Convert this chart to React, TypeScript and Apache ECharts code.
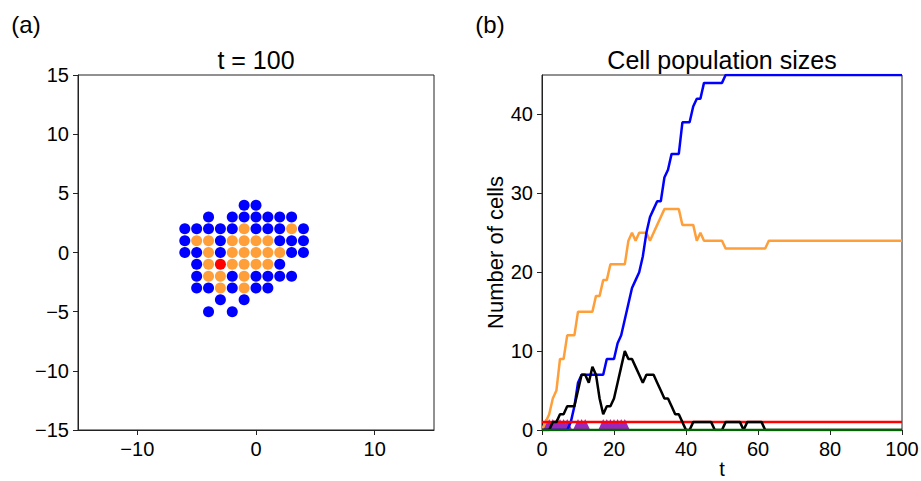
import React, { useEffect, useRef } from "react";
import * as echarts from "echarts";

// ---- Panel (a): cell positions at t = 100 ----
const blueCells: number[][] = [
  [-1, 4], [0, 4],
  [-4, 3], [-2, 3], [-1, 3], [0, 3], [1, 3], [2, 3], [3, 3],
  [-6, 2], [-5, 2], [-4, 2], [-3, 2], [-2, 2], [0, 2], [1, 2], [2, 2], [4, 2],
  [-6, 1], [-3, 1], [2, 1], [3, 1], [4, 1],
  [-6, 0], [-5, 0], [-3, 0], [3, 0], [4, 0],
  [-5, -1], [2, -1],
  [-5, -2], [-2, -2], [0, -2], [1, -2], [2, -2], [3, -2],
  [-5, -3], [-4, -3], [-2, -3], [0, -3], [1, -3],
  [-3, -4], [-1, -4],
  [-4, -5], [-2, -5],
];
const orangeCells: number[][] = [
  [-1, 2], [3, 2],
  [-5, 1], [-4, 1], [-2, 1], [-1, 1], [0, 1], [1, 1],
  [-4, 0], [-2, 0], [-1, 0], [0, 0], [1, 0], [2, 0],
  [-4, -1], [-2, -1], [-1, -1], [0, -1], [1, -1],
  [-4, -2], [-3, -2], [-1, -2],
  [-3, -3], [-1, -3],
];
const redCells: number[][] = [[-3, -1]];

const xTicksA = [-10, 0, 10];

// ---- Panel (b): population sizes, one value per time step t = 0..100 ----
const orangePop = [
  0, 1, 2, 4, 5, 9, 9, 12, 12, 12,
  15, 15, 15, 15, 15, 17, 17, 19, 19, 21,
  21, 21, 21, 21, 24, 25, 24, 25, 25, 25,
  24, 25, 26, 27, 28, 28, 28, 28, 28, 26,
  26, 26, 26, 24, 25, 24, 24, 24, 24, 24,
  24, 23, 23, 23, 23, 23, 23, 23, 23, 23,
  23, 23, 23, 24, 24, 24, 24, 24, 24, 24,
  24, 24, 24, 24, 24, 24, 24, 24, 24, 24,
  24, 24, 24, 24, 24, 24, 24, 24, 24, 24,
  24, 24, 24, 24, 24, 24, 24, 24, 24, 24,
  24,
];
const bluePop = [
  0, 0, 0, 0, 0, 0, 0, 0, 1, 3,
  6, 7, 7, 7, 7, 7, 7, 7, 9, 9,
  9, 11, 12, 14, 16, 18, 19, 20, 22, 25,
  27, 28, 29, 29, 32, 33, 35, 35, 35, 39,
  39, 39, 41, 42, 42, 44, 44, 44, 44, 44,
  44, 45, 45, 45, 45, 45, 45, 45, 45, 45,
  45, 45, 45, 45, 45, 45, 45, 45, 45, 45,
  45, 45, 45, 45, 45, 45, 45, 45, 45, 45,
  45, 45, 45, 45, 45, 45, 45, 45, 45, 45,
  45, 45, 45, 45, 45, 45, 45, 45, 45, 45,
  45,
];
const blackPop = [
  0, 0, 0, 1, 1, 2, 2, 3, 3, 3,
  5, 7, 7, 6, 8, 7, 4, 2, 3, 3,
  4, 6, 8, 10, 9, 9, 8, 7, 6, 7,
  7, 7, 6, 5, 4, 4, 3, 2, 2, 1,
  0, 0, 1, 1, 1, 1, 1, 1, 0, 0,
  0, 1, 1, 1, 1, 1, 0, 1, 1, 1,
  1, 1, 0, 0, 0, 0, 0, 0, 0, 0,
  0, 0, 0, 0, 0, 0, 0, 0, 0, 0,
  0, 0, 0, 0, 0, 0, 0, 0, 0, 0,
  0, 0, 0, 0, 0, 0, 0, 0, 0, 0,
  0,
];
const redLine = [[0, 1], [100, 1]];
const greenLine = [[0, 0], [100, 0]];
const purpleTimes = [1, 2, 3, 4, 5, 6, 7, 10, 11, 12, 17, 18, 19, 20, 21, 22, 23];
const purpleValue = 1;

const xTicksB = [0, 20, 40, 60, 80, 100];
const yTicksB = [0, 10, 20, 30, 40];

const FONT = "'Liberation Sans', Arial, Helvetica, sans-serif";
const BLUE = "#0000ff";
const ORANGE = "#ff9f3a";
const RED = "#ff0000";
const AXIS = "#222";
const TICK_FS = 20;
const NAME_FS = 22;
const TITLE_FS = 25;

const fmt = (v: number) => String(v).replace("-", "\u2212");

function axisBase(ticks: number[] | null, extra: any = {}) {
  return {
    type: "value",
    axisLine: { show: true, onZero: false, lineStyle: { color: AXIS, width: 1 } },
    axisTick: {
      show: true,
      inside: false,
      length: 5,
      lineStyle: { color: AXIS, width: 1 },
      ...(ticks ? { customValues: ticks } : {}),
    },
    axisLabel: {
      show: true,
      fontSize: TICK_FS,
      color: "#000",
      fontFamily: FONT,
      margin: 9,
      formatter: fmt,
      ...(ticks ? { customValues: ticks } : {}),
    },
    splitLine: { show: false },
    ...extra,
  };
}

export default function App() {
  const ref = useRef<HTMLDivElement>(null);

  useEffect(() => {
    if (!ref.current) return;
    const chart = echarts.init(ref.current, undefined, { renderer: "svg" });
    const toSeries = (arr: number[]) => arr.map((v, i) => [i, v]);
    const textEl = (text: string, x: number, y: number, fs: number) => ({
      type: "text", x, y,
      style: { text, fontSize: fs, fontFamily: FONT, fill: "#000", align: "center", verticalAlign: "middle" },
    });

    const option: any = {
      animation: false,
      backgroundColor: "#fff",
      textStyle: { fontFamily: FONT },
      grid: [
        { left: 78, top: 75, width: 356, height: 355, show: true, borderColor: AXIS, borderWidth: 1, outerBoundsMode: "none" },
        { left: 542, top: 75, width: 360, height: 355, show: true, borderColor: AXIS, borderWidth: 1, outerBoundsMode: "none" },
      ],
      xAxis: [
        axisBase(xTicksA, { gridIndex: 0, min: -15, max: 15 }),
        axisBase(xTicksB, { gridIndex: 1, min: 0, max: 100 }),
      ],
      yAxis: [
        axisBase(null, { gridIndex: 0, min: -15, max: 15, interval: 5 }),
        axisBase(yTicksB, {
          gridIndex: 1, min: 0, max: 45,
          name: "Number of cells", nameLocation: "middle", nameGap: 34,
          nameTextStyle: { fontSize: NAME_FS, color: "#000", fontFamily: FONT },
        }),
      ],
      graphic: [
        textEl("(a)", 26, 24, 24),
        textEl("(b)", 490, 24, 24),
        textEl("t = 100", 256, 60, TITLE_FS),
        textEl("Cell population sizes", 722, 60, TITLE_FS),
        textEl("t", 722, 469, 20),
      ],
      series: [
        { type: "scatter", xAxisIndex: 0, yAxisIndex: 0, data: blueCells, symbolSize: 11, itemStyle: { color: BLUE, opacity: 1 } },
        { type: "scatter", xAxisIndex: 0, yAxisIndex: 0, data: orangeCells, symbolSize: 11, itemStyle: { color: ORANGE, opacity: 1 } },
        { type: "scatter", xAxisIndex: 0, yAxisIndex: 0, data: redCells, symbolSize: 11, itemStyle: { color: RED, opacity: 1 } },

        { type: "line", xAxisIndex: 1, yAxisIndex: 1, data: toSeries(orangePop), showSymbol: false, lineStyle: { color: ORANGE, width: 2.5 } },
        { type: "line", xAxisIndex: 1, yAxisIndex: 1, data: toSeries(bluePop), showSymbol: false, lineStyle: { color: BLUE, width: 2.5 } },
        { type: "line", xAxisIndex: 1, yAxisIndex: 1, data: redLine, showSymbol: false, lineStyle: { color: RED, width: 2.5 } },
        { type: "line", xAxisIndex: 1, yAxisIndex: 1, data: toSeries(blackPop), showSymbol: false, lineStyle: { color: "#000", width: 2.5 } },
        {
          type: "scatter", xAxisIndex: 1, yAxisIndex: 1,
          data: purpleTimes.map((t) => [t, purpleValue]),
          symbol: "triangle", symbolSize: [9, 10], symbolOffset: [0, 2],
          itemStyle: { color: "#9c27b8", opacity: 1 },
        },
        { type: "line", xAxisIndex: 1, yAxisIndex: 1, data: greenLine, showSymbol: false, lineStyle: { color: "#006400", width: 2.5 } },
      ],
    };
    chart.setOption(option);
    return () => chart.dispose();
  }, []);

  return (
    <div
      ref={ref}
      style={{ position: "fixed", left: 0, top: 0, width: 921, height: 481, background: "#fff" }}
    />
  );
}
